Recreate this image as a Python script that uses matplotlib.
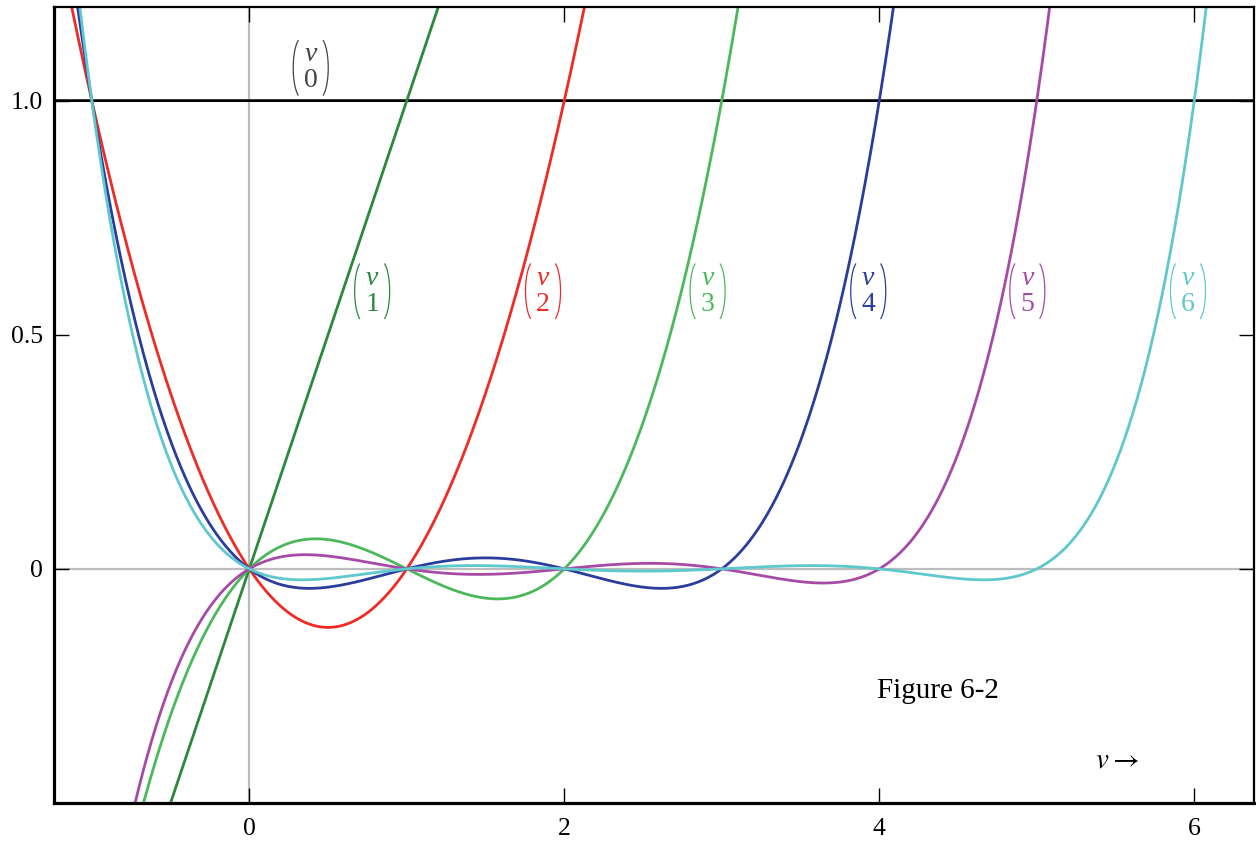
import numpy as np
import matplotlib.pyplot as plt
from matplotlib.transforms import ScaledTranslation
from math import factorial

plt.rcParams['font.family'] = ['Liberation Serif', 'DejaVu Serif']
plt.rcParams['mathtext.fontset'] = 'stix'

# Orders of the binomial coefficient curves C(v, k) -----------------
orders = [0, 1, 2, 3, 4, 5, 6]
colors = ['#000000', '#2a8a3c', '#ee2b25', '#4cb85c', '#2a3d9c', '#a64aa8', '#5ec8cc']
label_colors = ['#444444', '#2a8a3c', '#ee2b25', '#4cb85c', '#2a3d9c', '#a64aa8', '#5ec8cc']
label_x = [0.39, 0.78, 1.865, 2.91, 3.93, 4.94, 5.96]
label_y = [1.07, 0.593, 0.593, 0.593, 0.593, 0.593, 0.593]

x_ticks = [0, 2, 4, 6]
y_ticks = [0, 0.5, 1.0]
y_ticklabels = ['0', '0.5', '1.0']


def binom_curve(v, k):
    # generalized binomial coefficient v(v-1)...(v-k+1)/k!
    out = np.ones_like(v)
    for j in range(k):
        out = out * (v - j)
    return out / factorial(k)


def binom_label(ax, x, y, k, color):
    # stacked (v over k) with tall thin parentheses, sized in inches
    tr = fig.dpi_scale_trans + ScaledTranslation(x, y, ax.transData)
    ax.text(0, 0.13, 'v', transform=tr, color=color, fontsize=20,
            style='italic', ha='center', va='center')
    ax.text(0, -0.13, str(k), transform=tr, color=color, fontsize=20,
            ha='center', va='center')
    t = np.radians(np.linspace(115, 245, 60))
    px = 0.085 * np.cos(t)
    py = 0.30 * np.sin(t)
    ax.plot(px - 0.09, py, transform=tr, color=color, lw=0.9)
    ax.plot(0.09 - px, py, transform=tr, color=color, lw=0.9)


v = np.linspace(-1.4, 6.5, 3000)

fig = plt.figure(figsize=(12.56, 8.41), dpi=100)
ax = fig.add_axes([0.043, 0.0452, 0.9555, 0.9465])

# reference axes through the origin
ax.axhline(0, color='#bdbdbd', lw=1.6, zorder=1)
ax.axvline(0, color='#bdbdbd', lw=1.6, zorder=1)

for k, c in zip(orders, colors):
    ax.plot(v, binom_curve(v, k), color=c, lw=2.0, zorder=2)

for k, c, lx, ly in zip(orders, label_colors, label_x, label_y):
    binom_label(ax, lx, ly, k, c)

ax.text(4.375, -0.26, 'Figure 6-2', fontsize=21, ha='center', va='center')
ax.text(5.51, -0.41, r'$v \rightarrow$', fontsize=21, ha='center', va='center')

ax.set_xlim(-1.24, 6.38)
ax.set_ylim(-0.5, 1.2)
ax.set_xticks(x_ticks)
ax.set_yticks(y_ticks)
ax.set_yticklabels(y_ticklabels)
ax.tick_params(direction='in', length=11, width=1.0, labelsize=18.5,
               top=True, right=True, pad=8)
ax.tick_params(axis='x', pad=11)

for side in ['left', 'bottom']:
    ax.spines[side].set_linewidth(2.3)
for side in ['top', 'right']:
    ax.spines[side].set_linewidth(1.6)

fig.savefig('out.png', dpi=100)
